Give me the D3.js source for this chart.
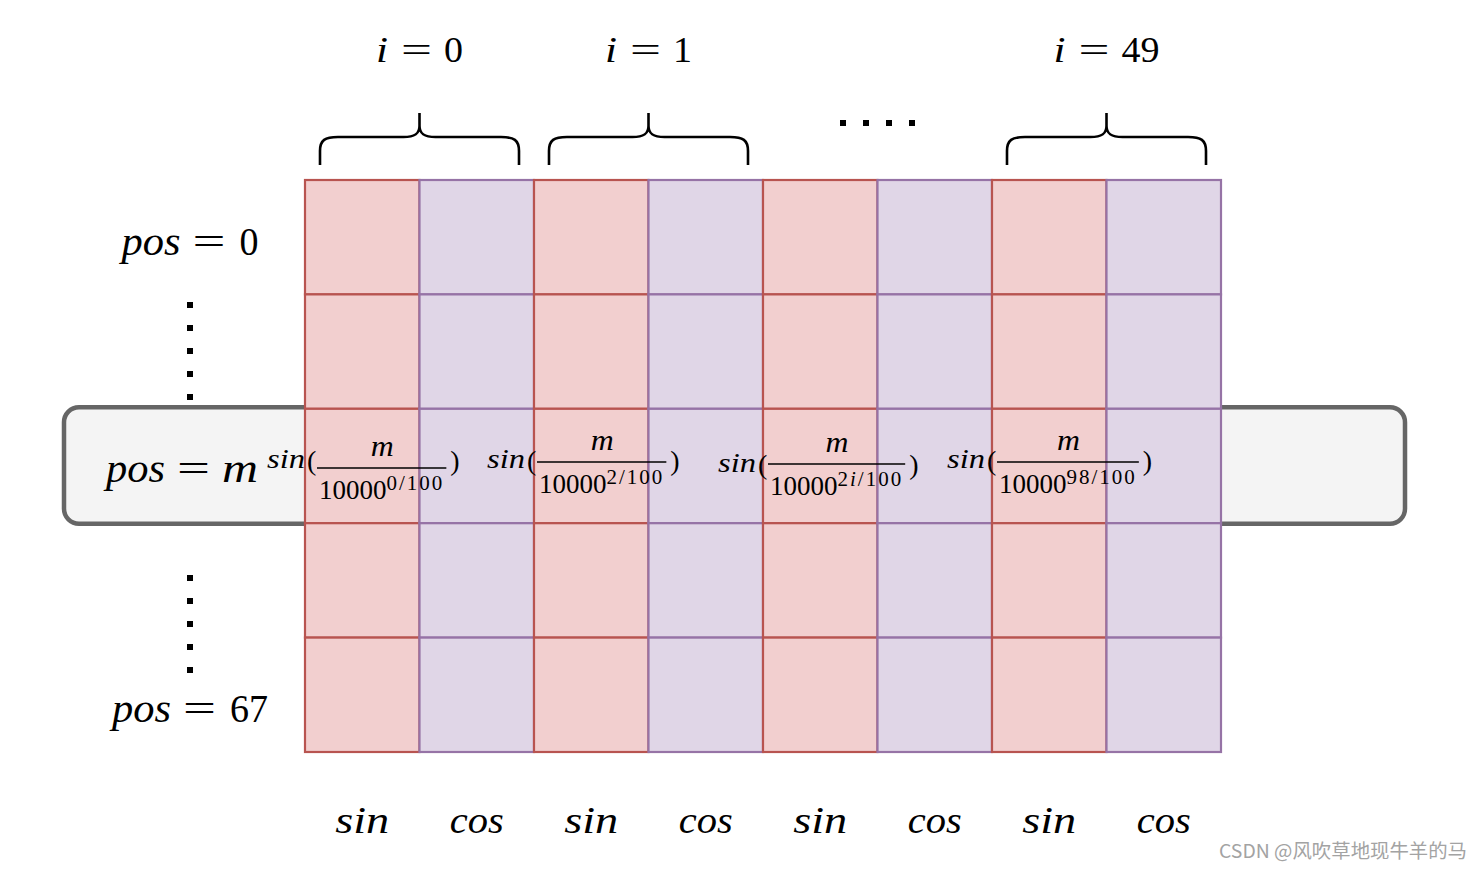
<!DOCTYPE html>
<html>
<head>
<meta charset="utf-8">
<script src="https://cdn.jsdelivr.net/npm/d3@7"></script>
<style>
html,body{margin:0;padding:0;background:#fff;}
svg{display:block;}
.math{font-family:"Liberation Serif","DejaVu Serif",serif;fill:#000;}
</style>
</head>
<body>
<svg id="chart" width="1482" height="870"></svg>
<script>
// ---- data ----
const columnTypes = ["sin","cos","sin","cos","sin","cos","sin","cos"];
const rowIds = ["0","a","m","b","67"];
const groupLabels = ["0","1",null,"49"];
const posLabels = [{row:"0", value:"0"}, {row:"m", value:"m"}, {row:"67", value:"67"}];
const gapRows = ["a","b"];
const exponents = ["0/100","2/100","2i/100","98/100"];
const watermark = "CSDN @风吹草地现牛羊的马";

// ---- layout ----
const svg = d3.select("#chart");
const x = d3.scaleBand().domain(d3.range(columnTypes.length)).range([305, 1221]).padding(0);
const y = d3.scaleBand().domain(rowIds).range([180, 752]).padding(0);
const groups = d3.range(groupLabels.length);
const gx = i => x(i * 2);
const gw = x.bandwidth() * 2;

const fillC = {sin:"#f2cfcf", cos:"#e0d6e7"};
const strokeC = {sin:"#b85450", cos:"#9673a6"};

// helper: lay out pieces of a math line with target widths
function mathLine(parent, parts, {x0, y0, anchor, size}) {
  const total = d3.sum(parts, p => (p.gap || 0) + p.w);
  let cx = anchor === "middle" ? x0 - total / 2 : x0;
  const g = parent.append("g");
  parts.forEach(p => {
    cx += p.gap || 0;
    g.append("text").attr("class", "math")
      .attr("x", cx).attr("y", y0).attr("font-size", p.size || size)
      .attr("font-style", p.it ? "italic" : "normal")
      .attr("textLength", p.w).attr("lengthAdjust", "spacingAndGlyphs")
      .text(p.t);
    cx += p.w;
  });
  return g;
}

// rounded band behind the highlighted row
svg.append("rect")
  .attr("x", 64).attr("y", y("m") - 1.5)
  .attr("width", 1405 - 64).attr("height", y.bandwidth() + 2)
  .attr("rx", 15).attr("ry", 15)
  .attr("fill", "#f4f4f4").attr("stroke", "#666666").attr("stroke-width", 4.5);

// grid cells (column by column, top to bottom)
const cells = [];
columnTypes.forEach((t, c) => rowIds.forEach(r => cells.push({c, r, t})));
svg.append("g").selectAll("rect").data(cells).join("rect")
  .attr("x", d => x(d.c)).attr("y", d => y(d.r))
  .attr("width", x.bandwidth()).attr("height", y.bandwidth())
  .attr("fill", d => fillC[d.t]).attr("stroke", d => strokeC[d.t]).attr("stroke-width", 2.2);

// bottom labels
svg.append("g").selectAll("text").data(columnTypes).join("text")
  .attr("class", "math")
  .attr("x", (d, i) => x(i) + x.bandwidth() / 2 - 27).attr("y", 833)
  .attr("font-style", "italic").attr("font-size", 37)
  .attr("textLength", 54).attr("lengthAdjust", "spacingAndGlyphs")
  .text(d => d);

// braces
function bracePath(x0, x1) {
  const xc = (x0 + x1) / 2, yb = 165, yh = 137, yt = 113;
  return `M${x0},${yb} L${x0},${yh + 14} C${x0},${yh + 3} ${x0 + 5},${yh} ${x0 + 18},${yh}
    L${xc - 16},${yh} C${xc - 5},${yh} ${xc},${yh - 3} ${xc},${yh - 11} L${xc},${yt}
    M${xc},${yh - 11} C${xc},${yh - 3} ${xc + 5},${yh} ${xc + 16},${yh}
    L${x1 - 18},${yh} C${x1 - 5},${yh} ${x1},${yh + 3} ${x1},${yh + 14} L${x1},${yb}`;
}
const labeled = groups.filter(g => groupLabels[g] !== null);
svg.append("g").selectAll("path").data(labeled).join("path")
  .attr("d", g => bracePath(gx(g) + 15, gx(g) + gw - 15))
  .attr("fill", "none").attr("stroke", "#000").attr("stroke-width", 2.6);

labeled.forEach(g => {
  const v = groupLabels[g];
  mathLine(svg, [
    {t:"i", it:true, w:12},
    {t:"=", w:31, gap:13},
    {t:v, w:19 * v.length, gap:12}
  ], {x0: gx(g) + gw / 2, y0: 62, anchor: "middle", size: 36});
});

// horizontal ellipsis for skipped group
groups.filter(g => groupLabels[g] === null).forEach(g => {
  const cx = gx(g) + gw / 2;
  svg.append("g").selectAll("rect").data(d3.range(4)).join("rect")
    .attr("x", k => cx + (k - 1.5) * 23 - 3).attr("y", 120).attr("width", 6).attr("height", 6).attr("fill", "#000");
});

// vertical ellipsis for skipped rows
gapRows.forEach(r => {
  const top = r === "a" ? 302 : 575;
  svg.append("g").selectAll("rect").data(d3.range(5)).join("rect")
    .attr("x", 187).attr("y", k => top + k * 23).attr("width", 6).attr("height", 6).attr("fill", "#000");
});

// pos labels
const posBase = {"0": 255, "m": 482, "67": 722};
posLabels.forEach(p => {
  const isM = p.row === "m";
  mathLine(svg, [
    {t:"pos", it:true, w:59},
    {t:"=", w:33, gap:12},
    {t:p.value, it:isM, w:isM ? 36 : 19 * p.value.length, gap:isM ? 12 : 14}
  ], {x0: isM ? 106 : 190, y0: posBase[p.row], anchor: isM ? "start" : "middle", size: 39});
});

// formulas in highlighted row
const fracOffset = [12, 3, 5, 5];
const lineY = [468, 462, 464, 462];
const sinShift = [0, 6, 8, 6];
exponents.forEach((e, k) => {
  const x0 = gx(k) + fracOffset[k];
  const ly = lineY[k];
  const g = svg.append("g");
  const den = g.append("text").attr("class", "math").attr("x", x0 + 2).attr("y", ly + 31).attr("font-size", 27);
  den.append("tspan").text("10000");
  den.append("tspan").attr("dy", -9).attr("font-size", 21).attr("letter-spacing", 2)
    .selectAll("tspan").data(e.split(/(i)/).filter(s => s)).join("tspan")
    .attr("font-style", s => s === "i" ? "italic" : "normal").text(s => s);
  const w = den.node().getComputedTextLength();
  const x1 = x0 + w + 4;
  g.append("line").attr("x1", x0).attr("x2", x1).attr("y1", ly).attr("y2", ly)
    .attr("stroke", "#000").attr("stroke-width", 1.3);
  g.append("text").attr("class", "math").attr("font-style", "italic").attr("font-size", 29)
    .attr("x", (x0 + x1) / 2 - 11).attr("y", ly - 12)
    .attr("textLength", 23).attr("lengthAdjust", "spacingAndGlyphs").text("m");
  g.append("text").attr("class", "math").attr("font-size", 27).attr("font-style", "italic")
    .attr("x", x0 - 50).attr("y", ly + sinShift[k])
    .attr("textLength", 38).attr("lengthAdjust", "spacingAndGlyphs").text("sin");
  g.append("text").attr("class", "math").attr("font-size", 28)
    .attr("x", x0 - 10).attr("y", ly + sinShift[k] + 2).text("(");
  g.append("text").attr("class", "math").attr("font-size", 28)
    .attr("x", x1 + 4).attr("y", ly + sinShift[k] + 2).text(")");
});

// watermark
svg.append("text").attr("x", 1467).attr("y", 858).attr("text-anchor", "end")
  .attr("font-family", "'Noto Sans CJK SC','Noto Sans',sans-serif").attr("font-size", 19)
  .attr("textLength", 248).attr("lengthAdjust", "spacingAndGlyphs")
  .attr("fill", "#a3a3a3").text(watermark);
</script>
</body>
</html>
